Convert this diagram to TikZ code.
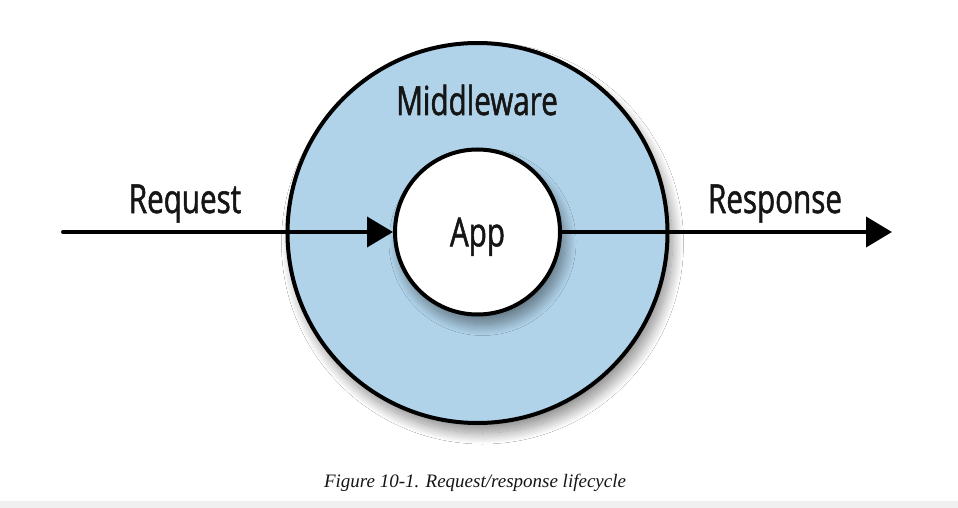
\documentclass[tikz,border=0pt]{standalone}
\usepackage{fontspec}
\newfontfamily\labelfont[FakeStretch=0.74,FakeBold=1.3]{Open Sans}
\newfontfamily\capfont{Liberation Serif}
\usetikzlibrary{arrows.meta,shadows.blur}
\definecolor{mwblue}{HTML}{B0D3EA}
\definecolor{stripgray}{HTML}{F0F0F0}
\definecolor{inkblack}{HTML}{151515}
\begin{document}
\begin{tikzpicture}[x=1pt,y=-1pt,
  lbl/.style={font=\labelfont\fontsize{40}{40}\selectfont, inner sep=0pt, text=inkblack},
  ring/.style={circle, draw=black, line width=4pt, inner sep=0pt,
    blur shadow={shadow xshift=5pt, shadow yshift=-10pt, shadow blur radius=11pt,
      shadow blur steps=24, shadow opacity=45}},
  flow/.style={line width=4pt, line cap=round, -{Triangle[length=26pt,width=30pt]}},
  captext/.style={font=\capfont\itshape\fontsize{19}{19}\selectfont, inner sep=0pt, text=inkblack}
]
\fill[white] (0,0) rectangle (958,508);
\useasboundingbox (0,0) rectangle (958,508);
\fill[stripgray] (0,501) rectangle (958,508);
\node[ring, fill=mwblue, minimum size=380pt] (mw) at (477.5,233) {};
\node[lbl, anchor=base] (mwlabel) at (477,115) {Middleware};
\node[ring, fill=white, minimum size=165pt, lbl, text depth=0pt] (app) at (477.5,232) {App};
\coordinate (in) at (63,232);
\coordinate (out) at (892,232);
\draw[flow] (in) -- (app);
\draw[flow] (app) -- (out);
\node[lbl, anchor=base] (req) at (185,213) {Request};
\node[lbl, anchor=base] (resp) at (775,213) {Response};
\node[captext, anchor=base] (cap) at (475,487) {Figure 10-1. Request/response lifecycle};
\end{tikzpicture}
\end{document}
